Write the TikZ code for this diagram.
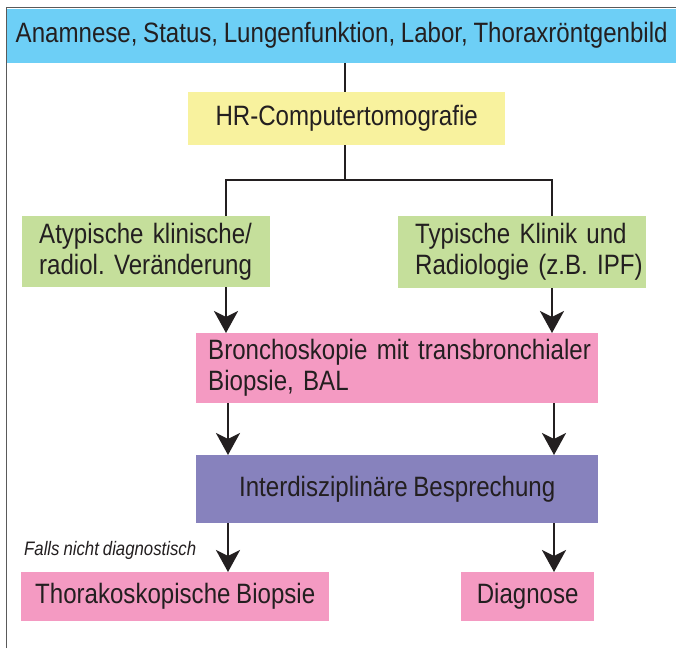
\documentclass[tikz,border=0pt]{standalone}
\usepackage{fontspec}
\setmainfont[FakeStretch=0.86,WordSpace=0.85]{Liberation Sans}
\usetikzlibrary{arrows.meta,calc}
\definecolor{cblue}{HTML}{6DCFF6}
\definecolor{cyellow}{HTML}{F8F29E}
\definecolor{cgreen}{HTML}{C5DF9B}
\definecolor{cpink}{HTML}{F49AC2}
\definecolor{cpurple}{HTML}{8782BD}
\definecolor{ctext}{HTML}{231F20}
\definecolor{cframe}{HTML}{5A5A5A}
\frenchspacing
\begin{document}
\begin{tikzpicture}[x=1pt,y=-1pt,
  box/.style={draw=none,anchor=north west,inner sep=0pt,text=ctext,font=\fontsize{28}{31}\selectfont},
  conn/.style={line width=2.6pt,draw=ctext},
  arr/.style={conn,-{Stealth[length=22pt,width=24pt,inset=6pt]}}]
\useasboundingbox (0,0) rectangle (676,648);
\fill[white] (0,0) rectangle (676,648);
% frame
\draw[cframe,line width=1.6pt] (6.5,648) -- (6.5,7.5) -- (676,7.5);
% boxes
\node[box,fill=cblue,minimum width=669pt,minimum height=54pt,font=\fontsize{28}{31}\selectfont] (top) at (7,8.5) {Anamnese, Status, Lungenfunktion, Labor, Thoraxröntgenbild};
\node[box,fill=cyellow,minimum width=317pt,minimum height=53pt] (hr) at (188,92) {HR-Computertomografie};
\node[box,fill=cgreen,minimum width=248pt,minimum height=71pt,text width=248pt,align=left] (lg) at (22,216) {\hspace*{17pt}Atypische klinische/\\\hspace*{17pt}radiol. Veränderung};
\node[box,fill=cgreen,minimum width=248pt,minimum height=72pt,text width=248pt,align=left] (rg) at (398,216) {\hspace*{17pt}Typische Klinik und\\\hspace*{17pt}Radiologie (z.B.~IPF)};
\node[box,fill=cpink,minimum width=402pt,minimum height=70pt,text width=402pt,align=left] (br) at (196,333) {\hspace*{12pt}Bronchoskopie mit transbronchialer\\\hspace*{12pt}Biopsie, BAL};
\node[box,fill=cpurple,minimum width=402pt,minimum height=68pt] (ib) at (196,455) {Interdisziplinäre Besprechung};
\node[box,fill=cpink,minimum width=308pt,minimum height=49pt] (tb) at (21,572) {Thorakoskopische Biopsie};
\node[box,fill=cpink,minimum width=133pt,minimum height=49pt] (dg) at (461,572) {Diagnose};
\node[anchor=west,inner sep=0pt,text=ctext,font=\fontsize{19.5}{22}\selectfont\itshape] (fl) at (24,550) {Falls nicht diagnostisch};
% connectors
\coordinate (ax) at (345,0);
\coordinate (jn) at (345,180);
\coordinate (L) at (226,0);
\coordinate (R) at (552,0);
\coordinate (Lb) at (228,0);
\coordinate (Rb) at (554,0);
\draw[conn] (top.south -| ax) -- (hr.north -| ax);
\draw[conn] (hr.south -| ax) -- (jn);
\draw[conn] (lg.north -| L) |- (jn) -| (rg.north -| R);
\draw[arr] (lg.south -| L) -- (br.north -| L);
\draw[arr] (rg.south -| R) -- (br.north -| R);
\draw[arr] (br.south -| Lb) -- (ib.north -| Lb);
\draw[arr] (br.south -| Rb) -- (ib.north -| Rb);
\draw[arr] (ib.south -| Lb) -- (tb.north -| Lb);
\draw[arr] (ib.south -| Rb) -- (dg.north -| Rb);
\end{tikzpicture}
\end{document}
